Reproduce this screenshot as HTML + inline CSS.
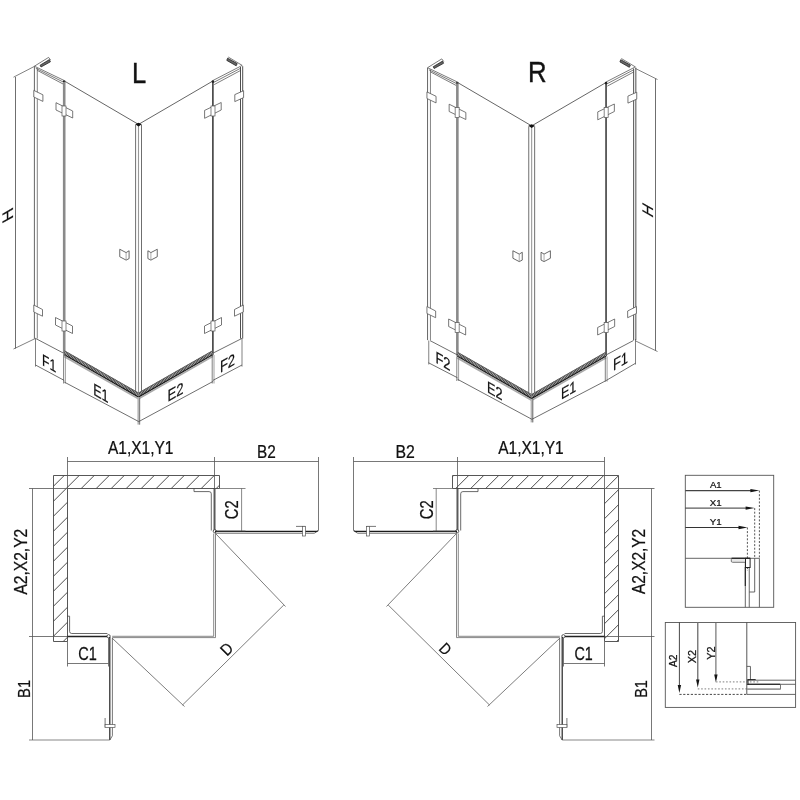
<!DOCTYPE html>
<html><head><meta charset="utf-8"><style>
html,body{margin:0;padding:0;background:#fff;width:800px;height:800px;overflow:hidden}
svg{display:block;filter:grayscale(100%)}
text{font-family:"Liberation Sans",sans-serif}
</style></head><body>
<svg width="800" height="800" viewBox="0 0 800 800">
<defs><g id="iso"><line x1="34.4" y1="66.4" x2="34.4" y2="338.6" stroke="#555" stroke-width="0.9" /><line x1="37.3" y1="68.0" x2="37.3" y2="338.6" stroke="#777" stroke-width="0.9" /><line x1="34.4" y1="66.2" x2="64.2" y2="80.5" stroke="#444" stroke-width="0.7" /><line x1="35.8" y1="68.3" x2="64.2" y2="82.5" stroke="#444" stroke-width="0.7" /><line x1="37.3" y1="70.4" x2="64.2" y2="84.6" stroke="#444" stroke-width="0.7" /><circle cx="64.2" cy="81.6" r="1.3" fill="#222"/><polygon points="40.1,65.2 49.4,59.6 50.4,61.8 41.0,67.0" fill="#666" stroke="#222" stroke-width="0.8"/><path d="M34.4,66.2 L48.6,57.4 L50.6,60.0" fill="none" stroke="#444" stroke-width="0.7"/><line x1="64.2" y1="82.0" x2="64.2" y2="353.2" stroke="#8a8a8a" stroke-width="2.6" /><line x1="64.4" y1="81.0" x2="138.5" y2="124.4" stroke="#666" stroke-width="1.0" /><line x1="138.5" y1="124.4" x2="212.9" y2="81.0" stroke="#666" stroke-width="1.0" /><line x1="135.6" y1="124.8" x2="135.6" y2="393.5" stroke="#555" stroke-width="0.85" /><line x1="138.5" y1="124.4" x2="138.5" y2="396.5" stroke="#999" stroke-width="1.1" /><line x1="141.5" y1="124.8" x2="141.5" y2="393.5" stroke="#555" stroke-width="0.85" /><path d="M135.2,124.2 L138.5,122.8 L141.8,124.2 L138.5,126.4 Z" fill="#111"/><line x1="212.9" y1="82.0" x2="212.9" y2="353.2" stroke="#222" stroke-width="1.4" /><line x1="212.9" y1="80.5" x2="242.2" y2="65.4" stroke="#444" stroke-width="0.7" /><line x1="213.5" y1="82.5" x2="240.5" y2="68.3" stroke="#444" stroke-width="0.7" /><line x1="214.2" y1="84.6" x2="240.5" y2="70.5" stroke="#444" stroke-width="0.7" /><circle cx="212.9" cy="81.6" r="1.3" fill="#222"/><polygon points="227.6,58.2 237.2,63.6 236.2,65.8 226.8,60.4" fill="#666" stroke="#222" stroke-width="0.8"/><path d="M228.2,57.0 L242.2,65.4" fill="none" stroke="#444" stroke-width="0.7"/><line x1="240.5" y1="67.0" x2="240.5" y2="338.6" stroke="#3a3a3a" stroke-width="0.9" /><line x1="242.7" y1="66.2" x2="242.7" y2="338.6" stroke="#3a3a3a" stroke-width="0.9" /><line x1="64.2" y1="352.694" x2="138.5" y2="395.045" stroke="#bbb" stroke-width="4.0" /><line x1="64.2" y1="352.694" x2="138.5" y2="395.045" stroke="#333" stroke-width="4.0" stroke-dasharray="0.8,0.75"/><line x1="64.2" y1="350.594" x2="138.5" y2="392.945" stroke="#555" stroke-width="0.8" /><line x1="64.2" y1="354.794" x2="138.5" y2="397.145" stroke="#1a1a1a" stroke-width="1.2" /><line x1="64.2" y1="356.394" x2="138.5" y2="398.745" stroke="#aaa" stroke-width="1.8" /><line x1="212.9" y1="352.637" x2="138.5" y2="395.045" stroke="#bbb" stroke-width="4.0" /><line x1="212.9" y1="352.637" x2="138.5" y2="395.045" stroke="#333" stroke-width="4.0" stroke-dasharray="0.8,0.75"/><line x1="212.9" y1="350.537" x2="138.5" y2="392.945" stroke="#555" stroke-width="0.8" /><line x1="212.9" y1="354.73699999999997" x2="138.5" y2="397.145" stroke="#1a1a1a" stroke-width="1.2" /><line x1="212.9" y1="356.337" x2="138.5" y2="398.745" stroke="#aaa" stroke-width="1.8" /><polygon points="33.8,90.4 42.9,94.8 42.9,101.4 33.8,97.0" fill="#fff" stroke="#555" stroke-width="0.8"/><polygon points="56.0,102.7 72.7,111.0 72.7,118.0 56.0,110.0" fill="#fff" stroke="#555" stroke-width="0.8"/><polygon points="33.8,305.0 42.5,309.5 42.5,316.2 33.8,312.0" fill="#fff" stroke="#555" stroke-width="0.8"/><polygon points="55.5,317.5 72.5,326.0 72.5,333.5 55.5,325.0" fill="#fff" stroke="#555" stroke-width="0.8"/><polygon points="243.6,90.7 234.8,94.6 234.8,101.6 243.6,97.6" fill="#fff" stroke="#555" stroke-width="0.8"/><polygon points="221.2,102.5 204.6,110.4 204.6,118.3 221.2,110.0" fill="#fff" stroke="#555" stroke-width="0.8"/><polygon points="243.3,305.0 234.5,309.5 234.5,316.2 243.3,312.0" fill="#fff" stroke="#555" stroke-width="0.8"/><polygon points="221.5,317.5 204.5,326.0 204.5,333.5 221.5,325.0" fill="#fff" stroke="#555" stroke-width="0.8"/><rect x="62" y="106" width="4" height="10" fill="#fff" stroke="#555" stroke-width="0.7"/><rect x="62" y="321" width="4" height="10" fill="#fff" stroke="#555" stroke-width="0.7"/><rect x="211" y="106" width="4" height="10" fill="#fff" stroke="#555" stroke-width="0.7"/><rect x="211" y="321" width="4" height="10" fill="#fff" stroke="#555" stroke-width="0.7"/><polygon points="119.75,249.25 126.1,252.6 129.1,250.75 129.1,258.6 126.1,260.1 119.75,256.75" fill="#fff" stroke="#444" stroke-width="0.8"/><line x1="126.1" y1="252.6" x2="126.1" y2="260.1" stroke="#888" stroke-width="0.7" /><polygon points="157.25,249.25 150.9,252.6 147.9,250.75 147.9,258.6 150.9,260.1 157.25,256.75" fill="#fff" stroke="#444" stroke-width="0.8"/><line x1="150.9" y1="252.6" x2="150.9" y2="260.1" stroke="#888" stroke-width="0.7" /></g><g id="plan"><path d="M53.5,475.5 H219.5 V488.5 H67.5 V641.5 H53.5 Z" fill="none" stroke="#444" stroke-width="0.9"/><path d="M194,488.5 V491.6 H209.1 Q211.3,491.6 211.3,493.8 V530.5" fill="none" stroke="#444" stroke-width="0.8"/><line x1="214.2" y1="488.5" x2="214.2" y2="530.5" stroke="#222" stroke-width="1.1" /><line x1="215.3" y1="488.5" x2="215.3" y2="530.5" stroke="#666" stroke-width="0.7" /><circle cx="214.8" cy="531.2" r="1.6" fill="#fff" stroke="#333" stroke-width="0.8"/><path d="M215,531.4 H316.8 Q318,531.4 318,530.2" fill="none" stroke="#1a1a1a" stroke-width="1.1"/><path d="M215,533.2 H314.2 L316.6,532" fill="none" stroke="#444" stroke-width="0.8"/><line x1="296" y1="526.4" x2="305.4" y2="526.4" stroke="#555" stroke-width="0.8" /><rect x="302.6" y="526.4" width="2.8" height="9.6" fill="#fff" stroke="#555" stroke-width="0.7"/><line x1="213.7" y1="533.5" x2="213.7" y2="636.3" stroke="#555" stroke-width="0.7" /><line x1="215.5" y1="533.5" x2="215.5" y2="637.6" stroke="#555" stroke-width="0.7" /><line x1="112.2" y1="636.3" x2="213.7" y2="636.3" stroke="#555" stroke-width="0.7" /><line x1="112.2" y1="637.6" x2="215.5" y2="637.6" stroke="#555" stroke-width="0.7" /><path d="M67.2,616.2 H69.6 V631.4 Q69.6,633.5 71.7,633.5 H107.4" fill="none" stroke="#444" stroke-width="0.8"/><line x1="67" y1="636.5" x2="107.5" y2="636.5" stroke="#222" stroke-width="1.3" /><circle cx="108.6" cy="636.2" r="1.6" fill="#fff" stroke="#333" stroke-width="0.8"/><line x1="109.8" y1="637" x2="109.8" y2="740" stroke="#222" stroke-width="1.2" /><path d="M112.4,638 V735.8 L109.8,740" fill="none" stroke="#555" stroke-width="0.8"/><line x1="105.1" y1="718" x2="105.1" y2="727.5" stroke="#555" stroke-width="0.8" /><rect x="105.1" y="724.6" width="9.9" height="2.9" fill="#fff" stroke="#555" stroke-width="0.7"/><line x1="283.8" y1="605" x2="182.5" y2="705" stroke="#666" stroke-width="0.85" /><line x1="216" y1="534" x2="285.5" y2="606.5" stroke="#666" stroke-width="0.85" /><line x1="112" y1="638" x2="184.5" y2="706.5" stroke="#666" stroke-width="0.85" /><line x1="67.5" y1="461.5" x2="318.5" y2="461.5" stroke="#555" stroke-width="0.8" /><line x1="67.5" y1="457" x2="67.5" y2="488.5" stroke="#555" stroke-width="0.8" /><line x1="214.5" y1="457" x2="214.5" y2="488.5" stroke="#555" stroke-width="0.8" /><line x1="318.5" y1="457" x2="318.5" y2="530.5" stroke="#555" stroke-width="0.8" /><line x1="67.5" y1="663.5" x2="108.5" y2="663.5" stroke="#555" stroke-width="0.8" /><line x1="67.5" y1="641.5" x2="67.5" y2="666.5" stroke="#555" stroke-width="0.8" /><line x1="108.5" y1="638" x2="108.5" y2="666.5" stroke="#555" stroke-width="0.8" /></g><clipPath id="cwL"><path d="M53.5,475.5 H219.5 V488.5 H67.5 V641.5 H53.5 Z"/></clipPath><clipPath id="cwR"><path d="M618.7,475.3 H452.5 V488.5 H605 V641.5 H618.7 Z"/></clipPath><clipPath id="cwRt"><rect x="452.5" y="475.5" width="166" height="13"/></clipPath><clipPath id="cwRs"><rect x="604.5" y="488.5" width="14" height="153"/></clipPath></defs>
<rect width="800" height="800" fill="#fff"/>
<use href="#iso"/><use href="#iso" transform="translate(393.15,1.5)"/><line x1="35.5" y1="338.4" x2="63.6" y2="353.2" stroke="#4a4a4a" stroke-width="0.8" /><line x1="242.0" y1="338.4" x2="212.9" y2="353.2" stroke="#4a4a4a" stroke-width="0.8" /><line x1="35.5" y1="338.4" x2="35.5" y2="366.6" stroke="#4a4a4a" stroke-width="0.7" /><line x1="242.0" y1="338.4" x2="242.0" y2="366.6" stroke="#4a4a4a" stroke-width="0.7" /><line x1="63.6" y1="355" x2="63.6" y2="383.5" stroke="#4a4a4a" stroke-width="0.7" /><line x1="65.4" y1="355" x2="65.4" y2="383.5" stroke="#777" stroke-width="0.7" /><line x1="212.2" y1="355" x2="212.2" y2="383.5" stroke="#4a4a4a" stroke-width="0.7" /><line x1="214.0" y1="355" x2="214.0" y2="383.5" stroke="#777" stroke-width="0.7" /><line x1="35.5" y1="365.0" x2="64.2" y2="380.4" stroke="#4a4a4a" stroke-width="0.8" /><line x1="242.0" y1="365.0" x2="212.9" y2="380.4" stroke="#4a4a4a" stroke-width="0.8" /><line x1="138.6" y1="397.5" x2="138.6" y2="424.6" stroke="#b5b5b5" stroke-width="2.4" /><line x1="139.7" y1="397.5" x2="139.7" y2="424.6" stroke="#555" stroke-width="0.7" /><line x1="64.2" y1="382.0" x2="138.75" y2="421.6" stroke="#4a4a4a" stroke-width="0.8" /><line x1="138.75" y1="421.6" x2="212.9" y2="381.5" stroke="#4a4a4a" stroke-width="0.8" /><line x1="430" y1="340.6" x2="457.5" y2="355.0" stroke="#4a4a4a" stroke-width="0.8" /><line x1="633.5" y1="340.5" x2="606.0" y2="355.0" stroke="#4a4a4a" stroke-width="0.8" /><line x1="428.75" y1="340.5" x2="428.75" y2="364.5" stroke="#4a4a4a" stroke-width="0.7" /><line x1="635.5" y1="339.0" x2="635.5" y2="364.5" stroke="#4a4a4a" stroke-width="0.7" /><line x1="456.8" y1="356.5" x2="456.8" y2="381.0" stroke="#4a4a4a" stroke-width="0.7" /><line x1="458.6" y1="356.5" x2="458.6" y2="381.0" stroke="#777" stroke-width="0.7" /><line x1="605.3" y1="356.5" x2="605.3" y2="381.6" stroke="#4a4a4a" stroke-width="0.7" /><line x1="607.0999999999999" y1="356.5" x2="607.0999999999999" y2="381.6" stroke="#777" stroke-width="0.7" /><line x1="428.5" y1="362.75" x2="457.5" y2="377.75" stroke="#4a4a4a" stroke-width="0.8" /><line x1="635.5" y1="363.25" x2="605.75" y2="380.75" stroke="#4a4a4a" stroke-width="0.8" /><line x1="531.8" y1="399.0" x2="531.8" y2="422.4" stroke="#b5b5b5" stroke-width="2.4" /><line x1="532.9" y1="399.0" x2="532.9" y2="422.4" stroke="#555" stroke-width="0.7" /><line x1="457.5" y1="379.25" x2="531.9" y2="419.3" stroke="#4a4a4a" stroke-width="0.8" /><line x1="531.9" y1="419.3" x2="605.75" y2="380.75" stroke="#4a4a4a" stroke-width="0.8" /><line x1="15.5" y1="77.0" x2="15.5" y2="348.5" stroke="#4a4a4a" stroke-width="0.8" /><line x1="13.5" y1="77.2" x2="34.4" y2="66.4" stroke="#4a4a4a" stroke-width="0.7" /><line x1="13.5" y1="349.0" x2="35.5" y2="338.4" stroke="#4a4a4a" stroke-width="0.7" /><line x1="655.5" y1="78.8" x2="655.5" y2="350.5" stroke="#4a4a4a" stroke-width="0.8" /><line x1="657.5" y1="79.5" x2="635.5" y2="68.5" stroke="#4a4a4a" stroke-width="0.7" /><line x1="657.5" y1="351.5" x2="635.5" y2="340.9" stroke="#4a4a4a" stroke-width="0.7" /><use href="#plan"/><use href="#plan" transform="matrix(-1,0,0,1,672,0)"/><path d="M-150.29999999999995,645 L24.700000000000045,470 M-135.29999999999995,645 L39.700000000000045,470 M-120.29999999999995,645 L54.700000000000045,470 M-105.29999999999995,645 L69.70000000000005,470 M-90.29999999999995,645 L84.70000000000005,470 M-75.29999999999995,645 L99.70000000000005,470 M-60.299999999999955,645 L114.70000000000005,470 M-45.299999999999955,645 L129.70000000000005,470 M-30.299999999999955,645 L144.70000000000005,470 M-15.299999999999955,645 L159.70000000000005,470 M-0.2999999999999545,645 L174.70000000000005,470 M14.700000000000045,645 L189.70000000000005,470 M29.700000000000045,645 L204.70000000000005,470 M44.700000000000045,645 L219.70000000000005,470 M59.700000000000045,645 L234.70000000000005,470 M74.70000000000005,645 L249.70000000000005,470 M89.70000000000005,645 L264.70000000000005,470 M104.70000000000005,645 L279.70000000000005,470 M119.70000000000005,645 L294.70000000000005,470 M134.70000000000005,645 L309.70000000000005,470 M149.70000000000005,645 L324.70000000000005,470 M164.70000000000005,645 L339.70000000000005,470 M179.70000000000005,645 L354.70000000000005,470 M194.70000000000005,645 L369.70000000000005,470 M209.70000000000005,645 L384.70000000000005,470 M224.70000000000005,645 L399.70000000000005,470 M239.70000000000005,645 L414.70000000000005,470" stroke="#444" stroke-width="0.95" fill="none" clip-path="url(#cwL)"/><path d="M409.20000000000005,490 L429.20000000000005,470 M424.20000000000005,490 L444.20000000000005,470 M439.20000000000005,490 L459.20000000000005,470 M454.20000000000005,490 L474.20000000000005,470 M469.20000000000005,490 L489.20000000000005,470 M484.20000000000005,490 L504.20000000000005,470 M499.20000000000005,490 L519.2,470 M514.2,490 L534.2,470 M529.2,490 L549.2,470 M544.2,490 L564.2,470 M559.2,490 L579.2,470 M574.2,490 L594.2,470 M589.2,490 L609.2,470 M604.2,490 L624.2,470 M619.2,490 L639.2,470 M634.2,490 L654.2,470" stroke="#444" stroke-width="0.95" fill="none" clip-path="url(#cwRt)"/><path d="M418.20000000000005,645 L578.2,485 M433.20000000000005,645 L593.2,485 M448.20000000000005,645 L608.2,485 M463.20000000000005,645 L623.2,485 M478.20000000000005,645 L638.2,485 M493.20000000000005,645 L653.2,485 M508.20000000000005,645 L668.2,485 M523.2,645 L683.2,485 M538.2,645 L698.2,485 M553.2,645 L713.2,485 M568.2,645 L728.2,485 M583.2,645 L743.2,485 M598.2,645 L758.2,485 M613.2,645 L773.2,485 M628.2,645 L788.2,485" stroke="#444" stroke-width="0.95" fill="none" clip-path="url(#cwRs)"/><line x1="32.5" y1="488.5" x2="32.5" y2="740" stroke="#555" stroke-width="0.8" /><line x1="29" y1="488.5" x2="67.5" y2="488.5" stroke="#555" stroke-width="0.8" /><line x1="29" y1="636.5" x2="67.5" y2="636.5" stroke="#555" stroke-width="0.8" /><line x1="29" y1="740" x2="109.8" y2="740" stroke="#555" stroke-width="0.7" /><line x1="651.5" y1="488.5" x2="651.5" y2="740" stroke="#555" stroke-width="0.8" /><line x1="604.5" y1="488.5" x2="654.5" y2="488.5" stroke="#555" stroke-width="0.8" /><line x1="604.5" y1="636.5" x2="654.5" y2="636.5" stroke="#555" stroke-width="0.8" /><line x1="562.2" y1="740" x2="654.5" y2="740" stroke="#555" stroke-width="0.7" /><g><text x="0" y="0" font-size="16.0" fill="#111" stroke="#111" stroke-width="0.22" transform="matrix(1.5980,0.0000,0.0000,1.7955,131.891,82.750)" >L</text><text x="0" y="0" font-size="16.0" fill="#111" stroke="#111" stroke-width="0.22" transform="matrix(1.6086,0.0000,0.0000,1.8182,527.877,82.000)" >R</text><text x="0" y="0" font-size="16.0" fill="#111" stroke="#111" stroke-width="0.22" transform="matrix(0.7548,0.4303,0.0000,1.0227,42.004,364.882)" >F1</text><text x="0" y="0" font-size="16.0" fill="#111" stroke="#111" stroke-width="0.22" transform="matrix(0.7866,0.4484,0.0000,1.0455,93.212,394.508)" >E1</text><text x="0" y="0" font-size="16.0" fill="#111" stroke="#111" stroke-width="0.22" transform="matrix(0.8200,-0.4674,0.0000,1.0273,167.618,402.117)" >E2</text><text x="0" y="0" font-size="16.0" fill="#111" stroke="#111" stroke-width="0.22" transform="matrix(0.8111,-0.4623,0.0000,1.0273,219.929,372.910)" >F2</text><text x="0" y="0" font-size="16.0" fill="#111" stroke="#111" stroke-width="0.22" transform="matrix(0.8111,0.4623,0.0000,1.0318,435.429,362.590)" >F2</text><text x="0" y="0" font-size="16.0" fill="#111" stroke="#111" stroke-width="0.22" transform="matrix(0.7913,0.4510,0.0000,1.0182,486.956,392.005)" >E2</text><text x="0" y="0" font-size="16.0" fill="#111" stroke="#111" stroke-width="0.22" transform="matrix(0.7780,-0.4435,0.0000,1.0000,560.973,399.685)" >E1</text><text x="0" y="0" font-size="16.0" fill="#111" stroke="#111" stroke-width="0.22" transform="matrix(0.8092,-0.4612,0.0000,1.0364,612.932,371.109)" >F1</text><text x="0" y="0" font-size="16.0" fill="#111" stroke="#111" stroke-width="0.22" transform="matrix(0.0000,-1.0482,0.9545,-0.5441,12.500,218.584)" >H</text><text x="0" y="0" font-size="16.0" fill="#111" stroke="#111" stroke-width="0.22" transform="matrix(0.0000,-0.9417,0.9545,0.5441,652.500,218.443)" >H</text><text x="0" y="0" font-size="16.0" fill="#111" stroke="#111" stroke-width="0.22" transform="matrix(0.9693,0.0000,0.0000,1.0909,107.961,454.250)" >A1,X1,Y1</text><text x="0" y="0" font-size="16.0" fill="#111" stroke="#111" stroke-width="0.22" transform="matrix(0.9693,0.0000,0.0000,1.0909,498.211,454.250)" >A1,X1,Y1</text><text x="0" y="0" font-size="16.0" fill="#111" stroke="#111" stroke-width="0.22" transform="matrix(0.9604,0.0000,0.0000,1.1136,256.982,457.750)" >B2</text><text x="0" y="0" font-size="16.0" fill="#111" stroke="#111" stroke-width="0.22" transform="matrix(0.9891,0.0000,0.0000,1.0909,395.444,457.800)" >B2</text><text x="0" y="0" font-size="16.0" fill="#111" stroke="#111" stroke-width="0.22" transform="matrix(0.0000,-0.9236,1.1182,0.0000,238.400,519.139)" >C2</text><text x="0" y="0" font-size="16.0" fill="#111" stroke="#111" stroke-width="0.22" transform="matrix(0.0000,-0.9289,1.0909,0.0000,433.000,519.243)" >C2</text><text x="0" y="0" font-size="16.0" fill="#111" stroke="#111" stroke-width="0.22" transform="matrix(0.0000,-0.9736,1.0909,0.0000,26.500,594.539)" >A2,X2,Y2</text><text x="0" y="0" font-size="16.0" fill="#111" stroke="#111" stroke-width="0.22" transform="matrix(0.0000,-0.9661,1.0909,0.0000,644.500,594.039)" >A2,X2,Y2</text><text x="0" y="0" font-size="16.0" fill="#111" stroke="#111" stroke-width="0.22" transform="matrix(0.0000,-0.9239,1.0727,0.0000,30.000,697.970)" >B1</text><text x="0" y="0" font-size="16.0" fill="#111" stroke="#111" stroke-width="0.22" transform="matrix(0.0000,-0.9039,1.0455,0.0000,647.000,697.793)" >B1</text><text x="0" y="0" font-size="16.0" fill="#111" stroke="#111" stroke-width="0.22" transform="matrix(0.9057,0.0000,0.0000,1.1455,78.175,659.900)" >C1</text><text x="0" y="0" font-size="16.0" fill="#111" stroke="#111" stroke-width="0.22" transform="matrix(0.8951,0.0000,0.0000,1.1364,574.384,660.400)" >C1</text><text x="0" y="0" font-size="16.0" fill="#111" stroke="#111" stroke-width="0.22" transform="matrix(0.6340,-0.6340,0.7264,0.7264,226.963,656.637)" >D</text><text x="0" y="0" font-size="16.0" fill="#111" stroke="#111" stroke-width="0.22" transform="matrix(0.5967,0.5967,-0.7071,0.7071,438.012,649.612)" >D</text></g><line x1="241.6" y1="488.5" x2="241.6" y2="531" stroke="#555" stroke-width="0.7" /><line x1="219.5" y1="488.5" x2="245.5" y2="488.5" stroke="#555" stroke-width="0.7" /><line x1="216" y1="531" x2="245.5" y2="531" stroke="#555" stroke-width="0.7" /><line x1="436.2" y1="488.5" x2="436.2" y2="531" stroke="#555" stroke-width="0.7" /><line x1="433" y1="488.5" x2="452.5" y2="488.5" stroke="#555" stroke-width="0.7" /><line x1="433" y1="531" x2="456" y2="531" stroke="#555" stroke-width="0.7" /><g><rect x="685.3" y="475.3" width="88.4" height="132" fill="none" stroke="#555" stroke-width="0.9"/><line x1="685.3" y1="490.6" x2="753.4" y2="490.6" stroke="#444" stroke-width="1.3" /><polygon points="750.4,488.90000000000003 759.4,490.6 750.4,492.3" fill="#151515"/><line x1="685.3" y1="508.1" x2="748.6" y2="508.1" stroke="#333" stroke-width="1.0" /><polygon points="745.6,506.40000000000003 754.6,508.1 745.6,509.8" fill="#151515"/><line x1="685.3" y1="527.5" x2="741.5" y2="527.5" stroke="#333" stroke-width="1.0" /><polygon points="738.5,525.8 747.5,527.5 738.5,529.2" fill="#151515"/><line x1="759.4" y1="490.6" x2="759.4" y2="558.3" stroke="#444" stroke-width="0.9" stroke-dasharray="2,1.6"/><line x1="754.7" y1="508.1" x2="754.7" y2="558.3" stroke="#444" stroke-width="0.9" stroke-dasharray="2,1.6"/><line x1="747.4" y1="527.5" x2="747.4" y2="571" stroke="#444" stroke-width="0.9" stroke-dasharray="2,1.6"/><line x1="685.3" y1="558.3" x2="759.4" y2="558.3" stroke="#555" stroke-width="0.9" /><line x1="745.3" y1="558.3" x2="745.3" y2="607.3" stroke="#555" stroke-width="0.9" /><line x1="749.25" y1="558.3" x2="749.25" y2="607.3" stroke="#555" stroke-width="0.9" /><line x1="759.4" y1="558.3" x2="759.4" y2="607.3" stroke="#555" stroke-width="0.9" /><path d="M749.25,592 H754.7 V558.3" fill="none" stroke="#555" stroke-width="0.9"/><path d="M745.3,558.3 H732.5 Q731.3,558.3 731.3,559.5 V561.2 Q731.3,562.3 732.5,562.3 H745.3" fill="#e8e8e8" stroke="#666" stroke-width="0.9"/><rect x="745.5" y="558.3" width="4.6" height="9.2" fill="#fff" stroke="#222" stroke-width="1.0"/><line x1="731.5" y1="558.3" x2="750" y2="558.3" stroke="#222" stroke-width="1.2" /><line x1="745.3" y1="567" x2="745.3" y2="586" stroke="#222" stroke-width="1.1" /><rect x="665.3" y="622.5" width="130.3" height="84.9" fill="none" stroke="#555" stroke-width="0.9"/><line x1="679.4" y1="622.5" x2="679.4" y2="687.1" stroke="#333" stroke-width="0.9" /><polygon points="677.6999999999999,685.1 679.4,693.1 681.1,685.1" fill="#151515"/><line x1="697.75" y1="622.5" x2="697.75" y2="681.5" stroke="#777" stroke-width="1.4" /><polygon points="696.05,679.5 697.75,687.5 699.45,679.5" fill="#151515"/><line x1="715.9" y1="622.5" x2="715.9" y2="676.5" stroke="#666" stroke-width="1.1" /><polygon points="714.1999999999999,674.5 715.9,682.5 717.6,674.5" fill="#151515"/><line x1="679.4" y1="694.4" x2="746.8" y2="694.4" stroke="#333" stroke-width="0.9" stroke-dasharray="2.2,1.6"/><line x1="697.75" y1="688.9" x2="746.8" y2="688.9" stroke="#999" stroke-width="1.2" stroke-dasharray="1.6,1.8"/><line x1="715.9" y1="681.9" x2="759.4" y2="681.9" stroke="#999" stroke-width="1.2" stroke-dasharray="1.6,1.8"/><line x1="746.8" y1="622.5" x2="746.8" y2="694.4" stroke="#444" stroke-width="0.9" /><line x1="746.8" y1="680.2" x2="795.6" y2="680.2" stroke="#555" stroke-width="0.9" /><line x1="746.8" y1="684.3" x2="795.6" y2="684.3" stroke="#555" stroke-width="0.9" /><line x1="746.8" y1="694.4" x2="795.6" y2="694.4" stroke="#555" stroke-width="0.9" /><path d="M746.8,666.4 H750.45 V680.2" fill="none" stroke="#555" stroke-width="0.9"/><path d="M746.8,684.3 H780.5 V689.15 H746.8" fill="none" stroke="#666" stroke-width="0.9"/><line x1="746.8" y1="689.15" x2="780.5" y2="689.15" stroke="#999" stroke-width="1.3" /><path d="M747.5,679.6 H755.7 M747.5,684.3 H780 M748,679.6 V685" fill="none" stroke="#222" stroke-width="1.0"/></g><g><text x="0" y="0" font-size="16.0" fill="#111" stroke="#111" stroke-width="0.4" transform="matrix(0.5997,0.0000,0.0000,0.5727,709.976,488.100)" >A1</text><text x="0" y="0" font-size="16.0" fill="#111" stroke="#111" stroke-width="0.4" transform="matrix(0.6101,0.0000,0.0000,0.5909,709.780,506.000)" >X1</text><text x="0" y="0" font-size="16.0" fill="#111" stroke="#111" stroke-width="0.4" transform="matrix(0.6101,0.0000,0.0000,0.6000,709.780,525.400)" >Y1</text><text x="0" y="0" font-size="16.0" fill="#111" stroke="#111" stroke-width="0.4" transform="matrix(0.0000,-0.6357,0.6545,0.0000,676.900,666.925)" >A2</text><text x="0" y="0" font-size="16.0" fill="#111" stroke="#111" stroke-width="0.4" transform="matrix(0.0000,-0.6793,0.6818,0.0000,696.250,663.345)" >X2</text><text x="0" y="0" font-size="16.0" fill="#111" stroke="#111" stroke-width="0.4" transform="matrix(0.0000,-0.6793,0.6818,0.0000,715.000,659.645)" >Y2</text></g>
</svg></body></html>
